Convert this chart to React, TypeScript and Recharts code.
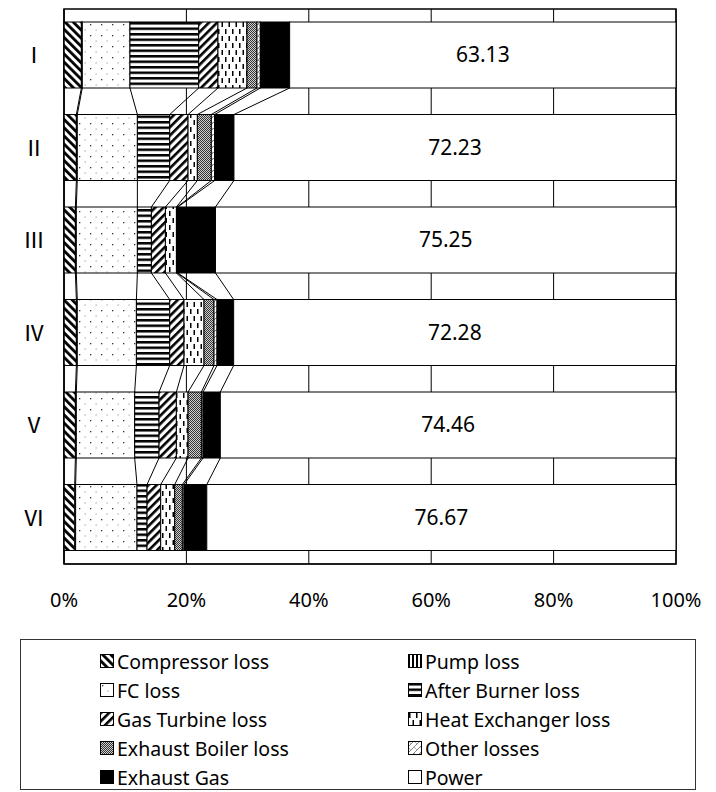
import React from 'react';
import {
  BarChart,
  Bar,
  XAxis,
  YAxis,
  CartesianGrid,
  ReferenceArea,
  Legend,
  LabelList,
} from 'recharts';

// ---------- data ----------
const categories = ['Ⅰ', 'Ⅱ', 'Ⅲ', 'Ⅳ', 'Ⅴ', 'Ⅵ'];
const compressorLoss = [2.84, 2.02, 1.86, 2.02, 1.86, 1.75];
const pumpLoss = [0.15, 0.15, 0.15, 0.15, 0.15, 0.15];
const fcLoss = [7.79, 9.82, 9.98, 9.66, 9.54, 10.03];
const afterBurnerLoss = [11.23, 5.28, 2.29, 5.44, 3.98, 1.64];
const gasTurbineLoss = [3.15, 3.0, 2.29, 2.34, 2.83, 2.23];
const heatExchangerLoss = [4.74, 1.52, 1.8, 3.27, 1.91, 2.29];
const exhaustBoilerLoss = [1.63, 2.28, 0.12, 1.63, 2.18, 1.25];
const otherLosses = [0.55, 0.55, 0.1, 0.49, 0.27, 0.27];
const exhaustGas = [4.79, 3.15, 6.16, 2.72, 2.82, 3.72];
const power = [63.13, 72.23, 75.25, 72.28, 74.46, 76.67];
const xTicks = [0, 20, 40, 60, 80, 100];

type Series = { key: string; name: string; values: number[]; fill: string };

const seriesList: Series[] = [
  { key: 'compressor', name: 'Compressor loss', values: compressorLoss, fill: 'url(#p-comp)' },
  { key: 'pump', name: 'Pump loss', values: pumpLoss, fill: 'url(#p-pump)' },
  { key: 'fc', name: 'FC loss', values: fcLoss, fill: 'url(#p-fc)' },
  { key: 'ab', name: 'After Burner loss', values: afterBurnerLoss, fill: 'url(#p-ab)' },
  { key: 'gt', name: 'Gas Turbine loss', values: gasTurbineLoss, fill: 'url(#p-gt)' },
  { key: 'he', name: 'Heat Exchanger loss', values: heatExchangerLoss, fill: 'url(#p-he)' },
  { key: 'eb', name: 'Exhaust Boiler loss', values: exhaustBoilerLoss, fill: 'url(#p-eb)' },
  { key: 'other', name: 'Other losses', values: otherLosses, fill: 'url(#p-other)' },
  { key: 'eg', name: 'Exhaust Gas', values: exhaustGas, fill: '#000' },
  { key: 'power', name: 'Power', values: power, fill: '#fff' },
];

const rows = categories.map((c, i) => {
  const r: Record<string, any> = { name: c };
  seriesList.forEach((s) => {
    r[s.key] = s.values[i];
  });
  return r;
});

// ---------- layout ----------
const W = 716;
const H = 792;
const MARGIN = { top: 9, right: 40, bottom: 188, left: 14 };
const X_AXIS_H = 40;
const Y_AXIS_W = 50;
const PLOT_H = H - MARGIN.top - MARGIN.bottom - X_AXIS_H;
const BAND = PLOT_H / categories.length;
const FONT = '"Noto Sans", sans-serif';

const cumUpTo = (k: number, row: number) => {
  let s = 0;
  for (let j = 0; j <= k; j++) s += seriesList[j].values[row];
  return s;
};

const makeShape = (k: number) => (props: any) => {
  const { x, y, width, height, index } = props;
  const s = seriesList[k];
  const v = s.values[index];
  let line: React.ReactNode = null;
  if (k < seriesList.length - 1 && index < categories.length - 1 && v > 0) {
    const ratio = width / v;
    const cumBefore = cumUpTo(k, index) - v;
    const x0 = x - cumBefore * ratio;
    const nx = x0 + cumUpTo(k, index + 1) * ratio;
    line = (
      <line
        x1={x + width}
        y1={y + height}
        x2={nx}
        y2={y + BAND}
        stroke="#000"
        strokeWidth={1}
      />
    );
  }
  return (
    <g>
      <rect x={x} y={y} width={width} height={height} fill={s.fill} stroke="#000" strokeWidth={1} />
      {line}
    </g>
  );
};

const renderLegend = () => {
  const colX = [79, 387];
  return (
    <div
      style={{
        position: 'relative',
        width: '100%',
        height: '100%',
        border: '1.5px solid #333',
        boxSizing: 'border-box',
        fontFamily: FONT,
        fontSize: 19.5,
        color: '#000',
      }}
    >
      {seriesList.map((s, i) => {
        const col = i % 2;
        const r = Math.floor(i / 2);
        return (
          <div
            key={s.key}
            style={{
              position: 'absolute',
              left: colX[col],
              top: 8 + r * 29,
              height: 26,
              display: 'flex',
              alignItems: 'center',
              whiteSpace: 'nowrap',
            }}
          >
            <svg width={14} height={14} style={{ marginRight: 3 }}>
              <rect x={0.5} y={0.5} width={13} height={13} fill={s.fill} stroke="#000" strokeWidth={1} />
            </svg>
            <span>{s.name}</span>
          </div>
        );
      })}
    </div>
  );
};

export default function App() {
  return (
    <div style={{ position: 'absolute', left: 0, top: 0, background: '#fff' }}>
      <BarChart
        width={W}
        height={H}
        data={rows}
        layout="vertical"
        margin={MARGIN}
        barSize={66}
        style={{ fontFamily: FONT }}
      >
        <defs>
          <pattern id="p-comp" width="5.8" height="5.8" patternUnits="userSpaceOnUse" patternTransform="rotate(-45)">
            <rect width="5.8" height="5.8" fill="#fff" />
            <rect width="2.8" height="5.8" fill="#000" />
          </pattern>
          <pattern id="p-gt" width="5.8" height="5.8" patternUnits="userSpaceOnUse" patternTransform="rotate(45)">
            <rect width="5.8" height="5.8" fill="#fff" />
            <rect width="2.6" height="5.8" fill="#000" />
          </pattern>
          <pattern id="p-pump" width="4" height="4" patternUnits="userSpaceOnUse">
            <rect width="4" height="4" fill="#fff" />
            <rect width="2" height="4" fill="#000" />
          </pattern>
          <pattern id="p-ab" width="6" height="5.5" patternUnits="userSpaceOnUse">
            <rect width="6" height="5.5" fill="#fff" />
            <rect width="6" height="2.5" fill="#000" />
          </pattern>
          <pattern id="p-fc" width="11" height="11" patternUnits="userSpaceOnUse">
            <rect width="11" height="11" fill="#fff" />
            <rect x="2" y="2" width="1.3" height="1.3" fill="#333" />
            <rect x="7.5" y="7.5" width="1.3" height="1" fill="#999" />
          </pattern>
          <pattern id="p-he" width="7" height="14" patternUnits="userSpaceOnUse">
            <rect width="7" height="14" fill="#fff" />
            <rect x="1" y="1" width="1.5" height="5" fill="#000" />
            <rect x="4.5" y="8" width="1.5" height="5" fill="#000" />
          </pattern>
          <pattern id="p-eb" width="2" height="2" patternUnits="userSpaceOnUse">
            <rect width="2" height="2" fill="#d0d0d0" />
            <rect width="1" height="1" fill="#333" />
            <rect x="1" y="1" width="1" height="1" fill="#333" />
          </pattern>
          <pattern id="p-other" width="6" height="6" patternUnits="userSpaceOnUse">
            <rect width="6" height="6" fill="#fff" />
            <path d="M0,6 L6,0" stroke="#555" strokeWidth="0.7" />
            <path d="M0,0 L3,3" stroke="#888" strokeWidth="0.6" />
          </pattern>
        </defs>
        <CartesianGrid horizontal={false} vertical stroke="#000" strokeWidth={1} />
        <XAxis
          type="number"
          domain={[0, 100]}
          ticks={xTicks}
          tickFormatter={(v: number) => `${v}%`}
          height={X_AXIS_H}
          tickLine={false}
          tickSize={6}
          tickMargin={23}
          axisLine={{ stroke: '#000' }}
          tick={{ fill: '#000', fontSize: 20, fontFamily: FONT }}
          interval={0}
        />
        <YAxis
          type="category"
          dataKey="name"
          width={Y_AXIS_W}
          tickLine={false}
          tickSize={6}
          tickMargin={13}
          axisLine={{ stroke: '#000' }}
          tick={{ fill: '#000', fontSize: 22, fontFamily: '"Noto Sans CJK JP", sans-serif' }}
          interval={0}
        />
        <YAxis
          yAxisId="ticks"
          type="number"
          domain={[0, categories.length]}
          ticks={[1, 2, 3, 4, 5]}
          mirror
          width={0}
          tick={false}
          tickSize={8}
          tickLine={{ stroke: '#000' }}
          axisLine={false}
        />
        {seriesList.map((s, k) => (
          <Bar
            key={s.key}
            dataKey={s.key}
            name={s.name}
            stackId="a"
            fill={s.fill}
            stroke="#000"
            shape={makeShape(k)}
            isAnimationActive={false}
          >
            {s.key === 'power' ? (
              <LabelList
                dataKey="power"
                position="center"
                fill="#000"
                fontSize={21}
                fontFamily={FONT}
              />
            ) : null}
          </Bar>
        ))}
        <ReferenceArea x1={0} x2={100} fill="none" stroke="#000" strokeWidth={1.5} />
        <Legend
          layout="horizontal"
          verticalAlign="middle"
          align="center"
          content={renderLegend}
          wrapperStyle={{ left: 20, top: 639, width: 676, height: 151 }}
        />
      </BarChart>
    </div>
  );
}
